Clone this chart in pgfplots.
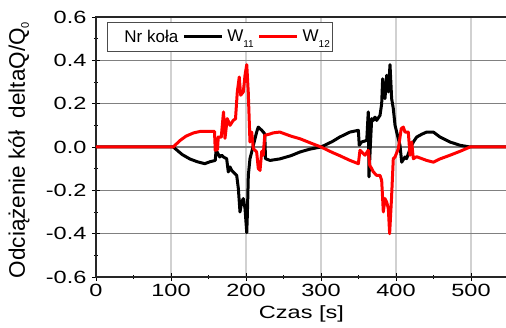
\documentclass[border=0pt]{standalone}
\usepackage{fontspec}
\setmainfont{Liberation Sans}
\newfontfamily\tickfont[FakeStretch=1.33]{Liberation Sans}
\usepackage{pgfplots}
\pgfplotsset{compat=1.18}
\begin{document}
\begin{tikzpicture}
\begin{axis}[
  at={(0pt,0pt)}, anchor=south west,
  scale only axis, width=412.5pt, height=260pt,
  xmin=0, xmax=550, ymin=-0.6, ymax=0.6,
  xtick={0,100,...,500}, ytick={-0.6,-0.4,...,0.61},
  minor x tick num=1, minor y tick num=1,
  xtick pos=left, ytick pos=left, tick align=center,
  major tick length=8pt, minor tick length=4pt,
  tick style={black, line width=0.9pt},
  axis line style={black!85, line width=1.1pt},
  xmajorgrids, ymajorgrids,
  x grid style={color=black!18, line width=1.5pt},
  y grid style={color=black!50, line width=1.3pt},
  /pgf/number format/assume math mode=true,
  yticklabel style={/pgf/number format/fixed, /pgf/number format/fixed zerofill, /pgf/number format/precision=1, xshift=-2pt},
  tick label style={font=\tickfont\fontsize{17.7}{20}\selectfont, black},
  xlabel={Czas [s]},
  xlabel style={font=\tickfont\fontsize{17.7}{20}\selectfont, at={(axis description cs:0.498,-0.1615)}, anchor=base},
  ylabel={Odciążenie kół\ \ deltaQ/Q\raisebox{-4pt}{\fontsize{11}{11}\selectfont 0}},
  ylabel style={font=\fontsize{22.5}{24}\selectfont, at={(axis description cs:-0.1867,0.488)}, anchor=center},
  legend columns=3,
  legend style={at={(axis description cs:0.0267,0.981)}, anchor=north west,
    draw=black!70, line width=0.8pt, inner xsep=1pt, inner ysep=5.5pt,
    font=\fontsize{17}{19}\selectfont, column sep=2pt,
    nodes={inner sep=2pt}},
  legend image code/.code={\draw[#1] (0pt,0pt) -- (38pt,0pt);},
  every axis plot/.append style={line width=3pt, line join=round},
]
\addlegendimage{empty legend}
\addlegendentry{\hspace*{12pt}Nr koła}
\addplot[black, mark=none] coordinates {
(0,0) (103,0) (115,-0.035) (125,-0.055) (135,-0.068) (145,-0.077) (152,-0.068) (159,-0.062) (160,-0.02) (161.5,-0.023) (165,-0.046) (167.6,-0.038) (169.8,-0.046) (174.2,-0.054) (176.4,-0.115) (178.7,-0.092) (180.9,-0.108) (185.3,-0.123) (187.6,-0.131) (189.8,-0.192) (192,-0.30) (194.2,-0.254) (196.4,-0.238) (198.7,-0.285) (201,-0.395) (201.8,-0.315) (203.1,-0.131) (205.3,-0.054) (207.6,-0.023) (209.8,0.008) (214.2,0.069) (216.4,0.092) (221,0.077) (223.1,0.069) (225,0.06) (226,-0.054) (232,-0.062) (245,-0.055) (260,-0.04) (272,-0.023) (285,-0.01) (300,0) (315,0.025) (325,0.046) (338.7,0.069) (349.8,0.077) (351,0.008) (354.2,0.023) (358.7,0.028) (361,0.031) (363,0.162) (364,-0.138) (366,0.02) (367.6,0.131) (369.8,0.123) (372,0.138) (374.2,0.123) (378.7,0.146) (380.9,0.20) (382.2,0.315) (384,0.254) (385.3,0.223) (387.6,0.331) (389.8,0.254) (392,0.38) (394.2,0.223) (396.4,0.177) (398.7,0.10) (403.1,0.038) (405.3,0.008) (407.6,-0.07) (412,-0.046) (414.2,-0.054) (418.7,-0.008) (420.9,0.008) (423.1,0.023) (427.6,0.046) (435,0.06) (440.9,0.069) (449.8,0.069) (458.7,0.046) (472,0.023) (485.3,0.008) (498.7,0) (550,0)
};
\addlegendentry{W\raisebox{-6pt}{\fontsize{10}{10}\selectfont 11}}
\addplot[red, mark=none] coordinates {
(0,0) (103,0) (112,0.03) (120,0.05) (130,0.065) (139,0.072) (150,0.072) (158,0.072) (159,-0.015) (162,-0.012) (163,0.046) (167,0.045) (170,0.162) (172,0.04) (175,0.131) (178.7,0.10) (183,0.123) (186,0.13) (188.4,0.254) (191,0.323) (192.9,0.239) (196.4,0.254) (198.7,0.331) (201,0.38) (203,0.254) (205.3,0.023) (207.6,0.069) (209.8,-0.008) (214.2,-0.023) (216.4,-0.100) (218.7,-0.108) (221,-0.02) (223,-0.038) (225,0.054) (232,0.06) (236,0.065) (245,0.069) (260,0.05) (272,0.038) (285,0.02) (300,0) (315,-0.025) (325,-0.04) (338.7,-0.062) (349.8,-0.077) (352,-0.015) (358.7,-0.038) (363,-0.015) (365,-0.085) (367.6,-0.1) (369.8,-0.115) (374.2,-0.131) (378.7,-0.131) (380.9,-0.154) (383.1,-0.30) (385.3,-0.238) (387.6,-0.254) (389.8,-0.285) (391.5,-0.40) (394,-0.238) (396.4,-0.054) (398.7,-0.046) (403.1,-0.008) (407,0.085) (409.8,0.092) (412,0.069) (416.4,0.069) (418.7,-0.038) (420.9,0.023) (423.1,-0.054) (427.6,-0.045) (440.9,-0.062) (449.8,-0.07) (458.7,-0.055) (472,-0.038) (485.3,-0.02) (498.7,0) (550,0)
};
\addlegendentry{W\raisebox{-6pt}{\fontsize{10}{10}\selectfont 12}}
\end{axis}
\pgfresetboundingbox
\path[use as bounding box] (-96pt,-51pt) rectangle (410pt,277pt);
\end{tikzpicture}
\end{document}
